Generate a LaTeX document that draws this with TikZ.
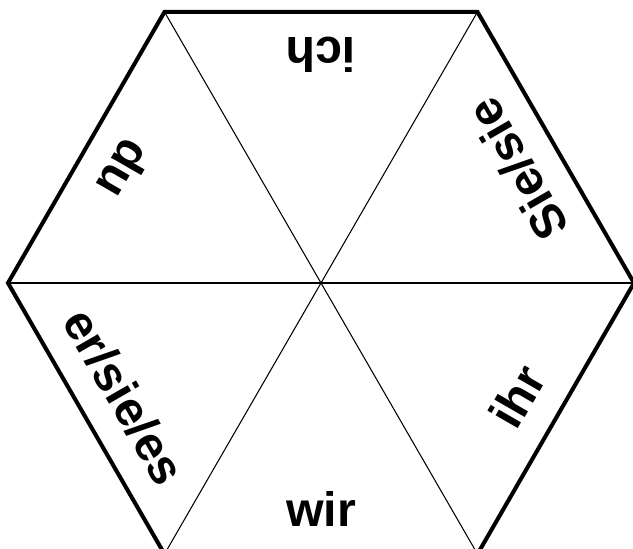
\documentclass[tikz,border=0pt]{standalone}
\usepackage{fontspec}
\setmainfont{Liberation Sans}
\usetikzlibrary{positioning}

\begin{document}
\begin{tikzpicture}[
  rim/.style={line width=2.3pt, line join=miter},
  spoke/.style={line width=0.6pt},
  pronoun/.style={font=\fontsize{27.5}{31}\selectfont\bfseries, anchor=base, inner sep=0pt}
]

% Frame
\clip (-6.42,-5.32) rectangle (6.24,5.66);

% Corners
\coordinate (c) at (0,0);
\foreach \i in {0,...,5} \coordinate (v\i) at (\i*60:6.26);

% Spokes
\foreach \i in {0,...,5} \draw[spoke] (c) -- (v\i);

% Rim
\draw[rim] (v0) -- (v1) -- (v2) -- (v3) -- (v4) -- (v5) -- cycle;

% Labels
\node (ich) [pronoun, rotate=180] at (90:4.9) {ich};
\node (sie) [pronoun, rotate=120] at (30:4.88) {Sie/sie};
\node (ihr) [pronoun, rotate=60] at (-30:4.88) {ihr};
\node (wir) [pronoun] at (-90:4.88) {wir};
\node (er) [pronoun, rotate=-60] at (210:4.88) {er/sie/es};
\node (du) [pronoun, rotate=-120] at (150:4.88) {du};

\end{tikzpicture}
\end{document}
